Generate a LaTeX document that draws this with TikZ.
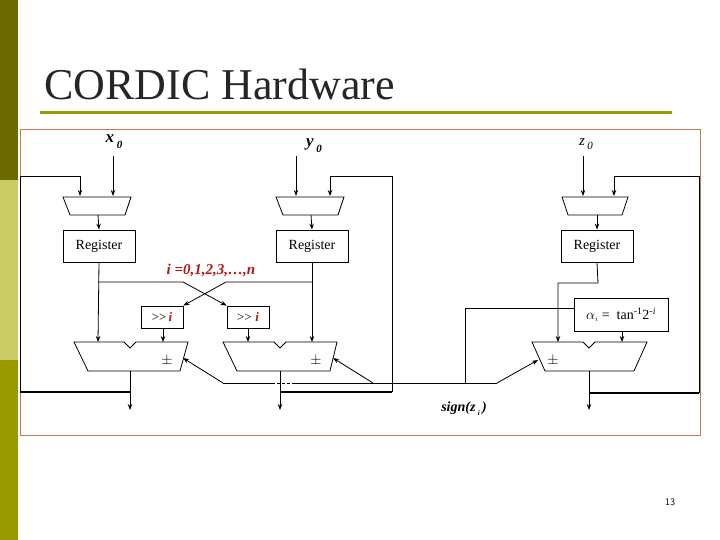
\documentclass[tikz,border=0pt]{standalone}
\usepackage{fontspec}
\setmainfont{Liberation Serif}
\usetikzlibrary{arrows.meta}
\definecolor{olA}{HTML}{6B6B00}
\definecolor{olB}{HTML}{CCCC66}
\definecolor{olC}{HTML}{999900}
\definecolor{frm}{HTML}{C87858}
\definecolor{rd}{HTML}{B01818}
\begin{document}
\begin{tikzpicture}[x=1pt,y=-1pt,
  ln/.style={line width=0.8pt},
  ar/.style={ln,-{Stealth[length=6pt,width=4.5pt]}},
  thick line/.style={line width=2pt},
  reg/.style={draw,line width=0.8pt,minimum width=72pt,minimum height=32pt,inner sep=0pt,font=\fontsize{14}{14}\selectfont},
  shf/.style={draw,line width=0.8pt,minimum width=42pt,minimum height=22pt,inner sep=0pt,font=\fontsize{13}{13}\selectfont},
  lab/.style={font=\fontsize{17}{17}\selectfont\bfseries\itshape},
  rlab/.style={text=rd,font=\fontsize{15}{15}\selectfont\bfseries\itshape}]
\useasboundingbox (0,0) rectangle (720,540);
\fill[olA] (0,0) rectangle (18,180);
\fill[olB] (0,180) rectangle (18,360);
\fill[olC] (0,360) rectangle (18,540);
\node[anchor=base west,inner sep=0pt,font=\fontsize{44}{44}\selectfont,text=black!85] (title) at (44,100) {CORDIC Hardware};
\draw[olC,line width=3pt] (40,113) -- (672,113);
\node[draw=frm,line width=1pt,minimum width=680pt,minimum height=305pt,inner sep=0pt] (frame) at (360,282.5) {};
% labels
\node[lab] (x0) at (114,142) {x\,\raisebox{-6pt}{\fontsize{11}{11}\selectfont 0}};
\node[lab] (y0) at (314,146) {y\,\raisebox{-6pt}{\fontsize{11}{11}\selectfont 0}};
\node[font=\fontsize{15}{15}\selectfont\itshape] (z0) at (586,144) {z\,\raisebox{-4pt}{\fontsize{11}{11}\selectfont 0}};
\coordinate (x0a) at (113,156); \coordinate (y0a) at (296,156); \coordinate (z0a) at (583,156);
% muxes
\draw[ln] (63,197) -- (131,197) -- (125,215) -- (70,215) -- cycle;
\draw[ln] (276,197) -- (344,197) -- (338,215) -- (283,215) -- cycle;
\draw[ln] (562,197) -- (628,197) -- (622,215) -- (568,215) -- cycle;
\coordinate (mx1) at (98,215); \coordinate (mx2) at (311,215); \coordinate (mx3) at (597,215);
% registers
\node[reg] (r1) at (99,246) {Register};
\node[reg] (r2) at (312,246) {Register};
\node[reg] (r3) at (597,246) {Register};
\draw[ar] (x0a) -- (113,196);
\draw[ar] (y0a) -- (296,196);
\draw[ar] (z0a) -- (583,196);
\draw[ar] (mx1) -- (r1.north);
\draw[ar] (mx2) -- (r2.north);
\draw[ar] (mx3) -- (r3.north);
% shifters
\node[shf] (s1) at (162,317) {{>}{>}\,\textcolor{rd}{\bfseries\itshape i}};
\node[shf] (s2) at (248,317) {{>}{>}\;\textcolor{rd}{\bfseries\itshape i}};
\node[rlab] (iter) at (211,270) {i =0,1,2,3,\dots,n};
% adders
\draw[ln] (74,342) -- (124,342) -- (130,348) -- (136,342) -- (188,342) -- (180,371) -- (88,371) -- cycle;
\draw[ln] (223,342) -- (274,342) -- (280,348) -- (286,342) -- (337,342) -- (330,371) -- (237,371) -- cycle;
\draw[ln] (532,342) -- (583,342) -- (589,348) -- (595,342) -- (647,342) -- (634,371) -- (545,371) -- cycle;
\node[font=\fontsize{14}{14}\selectfont] (pm1) at (167,361) {$\pm$};
\node[font=\fontsize{14}{14}\selectfont] (pm2) at (316,361) {$\pm$};
\node[font=\fontsize{14}{14}\selectfont] (pm3) at (553,361) {$\pm$};
\coordinate (a1in) at (98,342); \coordinate (a1sh) at (163,342);
\coordinate (a2in) at (312,342); \coordinate (a2sh) at (248,342);
\coordinate (a3in) at (558,342); \coordinate (a3al) at (622,342);
\draw[ar] (r1.south) -- (a1in);
\draw[ar] (r2.south) -- (a2in);
\draw[ar] (s1.south -| a1sh) -- (a1sh);
\draw[ar] (s2.south) -- (a2sh);
% cross
\draw[ar] (98,282) -- (183,282) -- (s2.north west);
\draw[ar] (312,282) -- (226,282) -- (s1.north east);
% z path
\draw[ar] (r3.south) -- (598,283) -- (558,283) -- (a3in);
\node[draw,line width=0.8pt,minimum width=94pt,minimum height=33pt,inner sep=0pt,font=\fontsize{14}{14}\selectfont] (alpha) at (621,314.5) {$\alpha_{\scriptscriptstyle i}$ =\ \ tan\textsuperscript{-1}2\textsuperscript{-\textit{i}}};
\draw[ar] (alpha.south -| a3al) -- (a3al);
% outputs and feedback
\coordinate (o1) at (130,410); \coordinate (o2) at (280,410); \coordinate (o3) at (589,410);
\draw[ar] (130,371) -- (o1);
\draw[ar] (280,371) -- (o2);
\draw[ar] (589,371) -- (o3);
\draw[thick line] (130,392) -- (20,392);
\draw[ln] (20,392) -- (20,176) -- (80,176);
\draw[ar] (80,176) -- (80,196);
\draw[thick line] (280,392) -- (392,392);
\draw[ln] (392,392) -- (392,176) -- (330,176);
\draw[ar] (330,176) -- (330,196);
\draw[thick line] (589,393) -- (699,393);
\draw[ln] (699,393) -- (699,176) -- (614,176);
\draw[ar] (614,176) -- (614,196);
% sign line
\draw[ar] (223,383) -- (183,358);
\draw[ln] (223,383) -- (272,383);
\draw[ln,dash pattern=on 3pt off 2pt] (272,383) -- (292,383);
\draw[ln] (292,383) -- (497,383);
\draw[ar] (373,383) -- (333,358);
\draw[ar] (497,383) -- (538,360);
\draw[ln] (465,383) -- (465,308) -- (alpha.west |- 0,308);
\node[lab,font=\fontsize{14}{14}\selectfont\bfseries\itshape] (sg) at (464,409) {sign(z\,\raisebox{-4pt}{\fontsize{7}{7}\selectfont i}\,)};
\node[font=\sffamily\fontsize{10}{10}\selectfont] (pg) at (670,502) {13};
\end{tikzpicture}
\end{document}
